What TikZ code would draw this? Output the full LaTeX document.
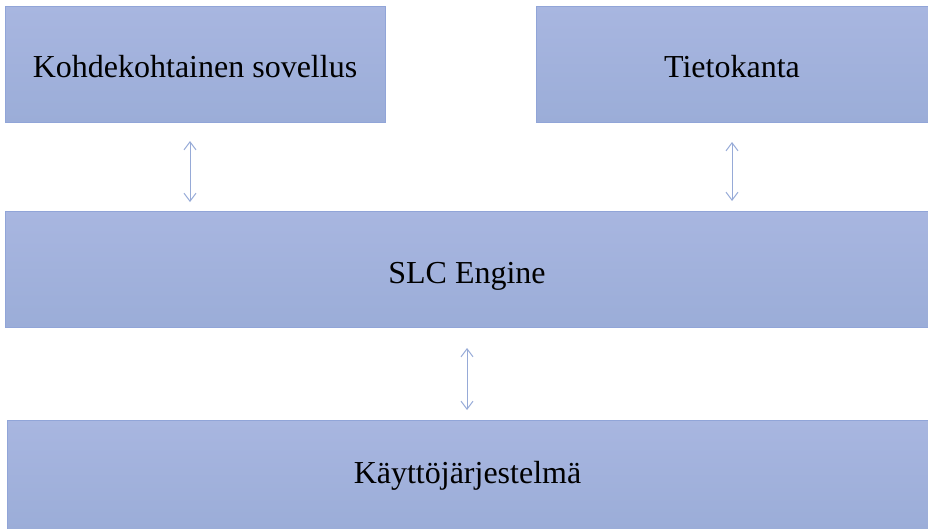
\documentclass[tikz,border=0pt]{standalone}
\usepackage{fontspec}
\setmainfont{Liberation Serif}
\usetikzlibrary{arrows.meta}
\definecolor{boxtop}{RGB}{168,182,224}
\definecolor{boxbot}{RGB}{155,173,216}
\definecolor{boxline}{RGB}{145,165,216}
\definecolor{arrcol}{RGB}{150,170,215}
\tikzset{
  layer/.style={rectangle, anchor=north west, inner sep=0pt, outer sep=0pt,
    top color=boxtop, bottom color=boxbot, draw=boxline, line width=1pt},
  caption/.style={font=\fontsize{32}{38}\selectfont, text=black, inner sep=0pt},
  biarrow/.style={draw=arrcol, line width=1pt,
    {Straight Barb[length=8pt,width=12pt]}-{Straight Barb[length=8pt,width=12pt]}}
}
\begin{document}
\begin{tikzpicture}[x=1pt,y=-1pt]
\useasboundingbox (0,0) rectangle (928,528);
\node[layer, minimum width=380pt, minimum height=116pt] (app) at (5,6) {};
\node[layer, minimum width=392pt, minimum height=116pt] (db) at (536,6) {};
\node[layer, minimum width=924pt, minimum height=116pt] (slc) at (5,211) {};
\node[layer, minimum width=921pt, minimum height=110pt] (os) at (7,420) {};
\node[caption] (appt) at ([yshift=-3pt]app.center) {Kohdekohtainen sovellus};
\node[caption] (dbt) at ([yshift=-3pt]db.center) {Tietokanta};
\node[caption] (slct) at ([yshift=-7pt]slc.center) {SLC Engine};
\node[caption] (ost) at ([yshift=-1pt]os.center) {Käyttöjärjestelmä};
\coordinate (a1) at (190,141);
\coordinate (a2) at (190,202);
\coordinate (b1) at (732,142);
\coordinate (b2) at (732,201);
\coordinate (c1) at (467,348);
\coordinate (c2) at (467,410);
\draw[biarrow] (a1) -- (a2);
\draw[biarrow] (b1) -- (b2);
\draw[biarrow] (c1) -- (c2);
\end{tikzpicture}
\end{document}
